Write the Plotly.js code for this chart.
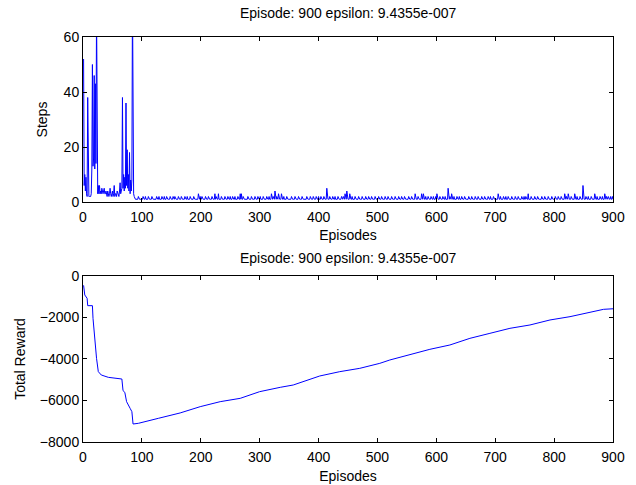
<!DOCTYPE html>
<html>
<head>
<meta charset="utf-8">
<script src="https://cdn.plot.ly/plotly-3.0.1.min.js"></script>
<style>html,body{margin:0;padding:0;background:#fff;}#chart{width:636px;height:485px;}</style>
</head>
<body>
<div id="chart"></div>
<script>
// Steps per episode, episodes 1..900
const steps = [
  52,6,10,4,9,3,2,38,3,2, 2,2,2,3,12,50,13,16,46,12, 43,14,70,10,3,6,3,6,3,4, 3,5,3,3,4,5,3,3,4,3, 2,4,3,2,3,5,3,2,3,4,
  2,3,6,2,3,3,2,4,3,3, 2,4,7,3,4,5,38,5,10,4, 9,5,36,6,19,5,10,4,18,3, 8,4,8,75,10,3,2,1,1,1, 1,1,1,2,1,1,1,1,1,1,
  1,2,1,1,1,2,1,1,1,1, 2,1,1,1,1,1,2,1,1,1, 1,1,1,1,2,1,1,1,2,1, 1,1,1,2,1,1,1,2,1,1, 1,2,1,1,1,1,1,2,1,1,
  1,1,2,1,1,2,1,1,1,1, 1,2,1,1,1,1,2,1,1,1, 1,1,2,1,1,1,2,1,1,1, 1,2,1,1,1,1,1,2,1,1, 1,1,1,1,1,3,1,1,2,1,
  1,2,1,1,1,1,1,2,1,1, 1,1,2,1,1,1,1,1,2,1, 1,1,1,3,1,2,1,1,1,3, 1,1,1,1,2,1,1,1,1,1, 2,1,1,1,1,2,1,1,1,2,
  1,1,1,2,1,1,1,2,1,1, 1,1,2,1,1,1,3,1,3,1, 1,2,1,1,1,1,1,1,1,2, 1,1,1,1,1,2,1,1,1,1, 1,2,1,1,1,1,2,1,1,1,
  2,1,1,1,1,2,1,1,1,1, 1,2,1,1,1,2,1,1,1,3, 1,1,2,1,1,4,1,1,2,1, 1,3,1,1,1,1,3,1,1,1, 2,1,1,1,1,2,1,1,1,1,
  1,1,1,2,1,1,1,1,1,2, 1,1,1,1,1,2,1,1,1,1, 1,2,1,1,1,1,1,1,1,2, 1,1,1,1,1,2,1,1,1,1, 2,1,1,1,1,2,1,1,1,2,
  1,1,1,2,1,1,1,1,2,1, 1,1,1,5,1,1,1,1,2,1, 1,1,1,2,1,1,1,2,1,1, 1,1,2,1,1,1,1,1,2,1, 1,2,1,1,3,1,1,4,1,1,
  1,1,3,1,1,1,2,1,1,1, 1,2,1,1,1,1,1,2,1,1, 1,1,1,2,1,1,1,1,1,2, 1,1,1,1,2,1,1,1,1,2, 1,1,1,1,1,2,1,1,1,1,
  1,2,1,1,1,1,2,1,1,1, 1,1,2,1,1,1,1,2,1,1, 1,1,1,2,1,1,1,1,1,2, 1,1,1,1,1,2,1,1,1,1, 2,1,1,1,1,2,1,1,1,1,
  1,1,2,1,1,1,1,2,1,1, 1,1,1,3,1,1,1,1,2,1, 1,1,1,1,3,1,1,3,1,1, 1,2,1,1,1,2,1,1,1,1, 2,1,1,1,2,1,1,1,2,1,
  3,1,1,1,1,2,1,1,1,1, 2,1,1,1,2,1,1,1,1,5, 1,1,2,1,1,3,1,1,1,2, 1,1,1,1,2,1,1,1,2,1, 1,1,2,1,1,1,1,2,1,1,
  1,1,1,1,2,1,1,1,1,2, 1,1,1,1,1,2,1,1,1,1, 2,1,1,1,1,1,2,1,1,1, 1,2,1,1,1,1,1,2,1,1, 1,2,1,1,1,1,2,1,1,1,
  1,1,1,1,3,1,1,1,2,1, 1,1,1,2,1,1,1,2,1,1, 1,2,1,1,1,1,1,2,1,1, 1,1,1,2,1,1,1,1,2,1, 1,1,1,1,2,1,1,1,2,1,
  1,2,1,1,1,3,1,1,1,1, 2,1,1,1,1,1,2,1,1,1, 1,2,1,1,1,1,1,1,2,1, 1,1,1,2,1,1,1,1,1,2, 1,1,1,1,1,2,1,1,1,1,
  1,2,1,1,1,1,2,1,1,1, 1,2,1,1,1,1,1,3,1,1, 2,1,1,3,1,1,1,1,2,1, 1,1,1,1,3,1,1,1,2,1, 1,1,1,2,1,1,1,1,6,1,
  1,1,1,2,1,1,1,2,1,1, 1,1,2,1,1,1,1,1,3,1, 1,1,2,1,1,1,1,2,1,1, 1,2,1,1,1,3,1,1,2,1, 1,2,1,1,1,2,1,1,2,1
];

// Cumulative total reward, read at selected episodes
const rewardEpisodes = [1, 3, 7, 8, 16, 17, 23, 26, 31, 43, 66, 68, 71, 74, 80, 83, 85, 94, 128, 165, 199, 233, 267, 300, 335, 357, 402, 436, 470, 504, 521, 538, 555, 589, 623, 657, 691, 725, 759, 793, 827, 861, 884, 900];
const rewardValues   = [-450, -915, -1076, -1430, -1430, -2040, -3968, -4610, -4771, -4884, -4964, -5526, -5606, -6056, -6378, -6538, -7133, -7100, -6859, -6600, -6297, -6056, -5896, -5574, -5365, -5253, -4819, -4611, -4450, -4209, -4048, -3920, -3807, -3534, -3325, -3004, -2763, -2522, -2361, -2120, -1960, -1767, -1606, -1580];

const xTickVals = [0, 100, 200, 300, 400, 500, 600, 700, 800, 900];
const stepTickVals = [0, 20, 40, 60];
const rewardTickVals = [-8000, -6000, -4000, -2000, 0];
const titleText = 'Episode: 900 epsilon: 9.4355e-007';

const traces = [
  {type: 'scatter', mode: 'lines', y: steps, x0: 1, dx: 1, xaxis: 'x', yaxis: 'y',
   line: {color: '#0000ff', width: 1}, hoverinfo: 'skip'},
  {type: 'scatter', mode: 'lines', x: rewardEpisodes, y: rewardValues, xaxis: 'x2', yaxis: 'y2',
   line: {color: '#0000ff', width: 1}, hoverinfo: 'skip'}
];

const FS = 14;
const baseFont = {family: 'Liberation Sans, Arial, sans-serif', size: FS, color: '#000'};
const axisCommon = {
  showline: true, mirror: 'ticks', linecolor: '#000', linewidth: 1,
  ticks: 'inside', ticklen: 4, tickcolor: '#000', tickwidth: 1,
  showgrid: false, zeroline: false, fixedrange: true,
  tickfont: baseFont
};

const layout = {
  width: 636, height: 485,
  margin: {l: 83, r: 23, t: 37, b: 43, pad: 0},
  paper_bgcolor: '#fff', plot_bgcolor: '#fff',
  showlegend: false,
  font: baseFont,
  xaxis: Object.assign({}, axisCommon, {domain: [0, 1], anchor: 'y', range: [0, 900], tickvals: xTickVals,
    ticklabelstandoff: 2, title: {text: 'Episodes', font: baseFont, standoff: 6}}),
  yaxis: Object.assign({}, axisCommon, {domain: [0.5926, 1], anchor: 'x', range: [0, 60], tickvals: stepTickVals,
    title: {text: 'Steps', font: baseFont, standoff: 12}}),
  xaxis2: Object.assign({}, axisCommon, {domain: [0, 1], anchor: 'y2', range: [0, 900], tickvals: xTickVals,
    ticklabelstandoff: 2, title: {text: 'Episodes', font: baseFont, standoff: 7}}),
  yaxis2: Object.assign({}, axisCommon, {domain: [0, 0.4099], anchor: 'x2', range: [-8000, 0], tickvals: rewardTickVals,
    title: {text: 'Total Reward', font: baseFont, standoff: 10}}),
  annotations: [
    {text: titleText, xref: 'paper', yref: 'paper', x: 0.5, y: 1.0, yanchor: 'middle', yshift: 24,
     showarrow: false, font: baseFont},
    {text: titleText, xref: 'paper', yref: 'paper', x: 0.5, y: 0.4099, yanchor: 'middle', yshift: 18,
     showarrow: false, font: baseFont}
  ]
};

Plotly.newPlot('chart', traces, layout, {displayModeBar: false, staticPlot: true});
</script>
</body>
</html>
